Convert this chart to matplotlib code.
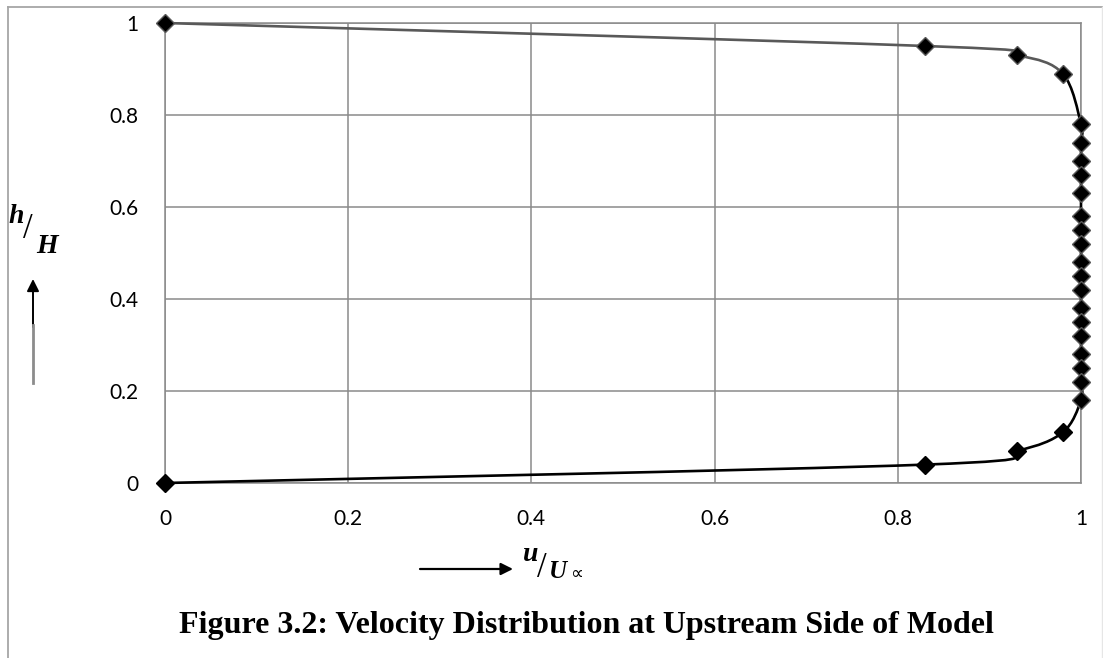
import matplotlib
matplotlib.use("Agg")
import matplotlib.pyplot as plt
from matplotlib.path import Path
from matplotlib.patches import PathPatch, FancyArrowPatch
from matplotlib.lines import Line2D

plt.rcParams["font.family"] = ["Lato", "DejaVu Sans"]

# velocity profile (u/U, h/H), going from the top surface down
u_top = [0, 0.83, 0.93, 0.98]
h_top = [1, 0.95, 0.93, 0.89]
h_mid = [0.78, 0.74, 0.70, 0.67, 0.63, 0.58, 0.55, 0.52, 0.48,
         0.45, 0.42, 0.38, 0.35, 0.32, 0.28, 0.25, 0.22, 0.18]
u_mid = [1.0] * len(h_mid)
u_bot = [0.98, 0.93, 0.83, 0]
h_bot = [0.11, 0.07, 0.04, 0]

x_ticks = [0, 0.2, 0.4, 0.6, 0.8, 1]
y_ticks = [0, 0.2, 0.4, 0.6, 0.8, 1]

W, H = 1103, 658
GRID = "#8a8a8a"
DARK = "#595959"

fig = plt.figure(figsize=(W / 100, H / 100), dpi=100)


def px(x, y):
    return x / W, 1 - y / H


ax = fig.add_axes([165 / W, (H - 483) / H, (1081 - 165) / W, (483 - 23) / H])
ax.set_xlim(0, 1)
ax.set_ylim(0, 1)
ax.set_xticks(x_ticks)
ax.set_yticks(y_ticks)
ax.set_xticklabels(["0", "0.2", "0.4", "0.6", "0.8", "1"])
ax.set_yticklabels(["0", "0.2", "0.4", "0.6", "0.8", "1"])
ax.tick_params(length=0, labelsize=15, pad=19)
ax.grid(True, color=GRID, lw=1.1)
for s in ax.spines.values():
    s.set_color(GRID)
    s.set_linewidth(1.1)

us = u_top + u_mid + u_bot
hs = h_top + h_mid + h_bot
pts = list(zip(us, hs))


def smooth_path(p, i0, i1):
    # cubic Bezier pieces through points i0..i1 (Catmull-Rom style tangents)
    verts = [p[i0]]
    codes = [Path.MOVETO]
    n = len(p)
    for i in range(i0, i1):
        a = p[max(i - 1, 0)]
        b = p[i]
        c = p[i + 1]
        d = p[min(i + 2, n - 1)]
        c1 = (b[0] + (c[0] - a[0]) / 6, b[1] + (c[1] - a[1]) / 6)
        c2 = (c[0] - (d[0] - b[0]) / 6, c[1] - (d[1] - b[1]) / 6)
        verts += [c1, c2, c]
        codes += [Path.CURVE4] * 3
    return Path(verts, codes)


n = len(pts)
ax.add_patch(PathPatch(smooth_path(pts, 0, 3), fc="none", ec=DARK, lw=1.9,
                       zorder=3, clip_on=False))
ax.add_patch(PathPatch(smooth_path(pts, 3, n - 1), fc="none", ec="black", lw=1.9,
                       zorder=3, clip_on=False))

ax.plot(u_top + u_mid, h_top + h_mid, ls="none", marker="D", ms=9.5,
        mfc="black", mec=DARK, mew=1.0, zorder=4, clip_on=False)
ax.plot(u_bot, h_bot, ls="none", marker="D", ms=9.5,
        mfc="black", mec="black", mew=1.0, zorder=4, clip_on=False)

# outer frame
fig.add_artist(Line2D([8 / W, 8 / W], [0, 1 - 7 / H], color="#a6a6a6", lw=1.3))
fig.add_artist(Line2D([8 / W, 1102 / W], [1 - 7 / H, 1 - 7 / H], color="#a6a6a6", lw=1.3))
fig.add_artist(Line2D([1102 / W, 1102 / W], [0, 1 - 7 / H], color="#e6e6e6", lw=1.0))

# y label h/H with arrow
serif = ["Liberation Serif", "DejaVu Serif"]
fig.text(*px(8, 223), "h", family=serif, style="italic", weight="bold",
         fontsize=20, ha="left", va="baseline")
fig.text(*px(23, 238), "/", family=serif, fontsize=25, ha="left", va="baseline")
fig.text(*px(36, 253), "H", family=serif, style="italic", weight="bold",
         fontsize=20, ha="left", va="baseline")
fig.add_artist(Line2D([33 / W, 33 / W], [1 - 383 / H, 1 - 325 / H], color="#8c8c8c", lw=2.0))
fig.add_artist(FancyArrowPatch(px(33, 327), px(33, 279), transform=fig.transFigure,
                               arrowstyle="-|>", mutation_scale=18, color="black",
                               lw=1.4, shrinkA=0, shrinkB=0))

# x label u/U with arrow
fig.add_artist(FancyArrowPatch(px(420, 569), px(513, 569), transform=fig.transFigure,
                               arrowstyle="-|>", mutation_scale=18, color="black",
                               lw=1.6, shrinkA=0, shrinkB=0))
fig.text(*px(523, 561), "u", family=serif, style="italic", weight="bold",
         fontsize=20, ha="left", va="baseline")
fig.text(*px(537, 577), "/", family=serif, fontsize=25, ha="left", va="baseline")
fig.text(*px(549, 578), "U", family=serif, style="italic", weight="bold",
         fontsize=18, ha="left", va="baseline")
fig.text(*px(570, 579), "\u221d", family=["DejaVu Sans"], fontsize=13, ha="left", va="baseline")

fig.text(*px(586, 633), "Figure 3.2: Velocity Distribution at Upstream Side of Model",
         family=serif, weight="bold", fontsize=23, ha="center", va="baseline")

fig.savefig("out.png", dpi=100)
